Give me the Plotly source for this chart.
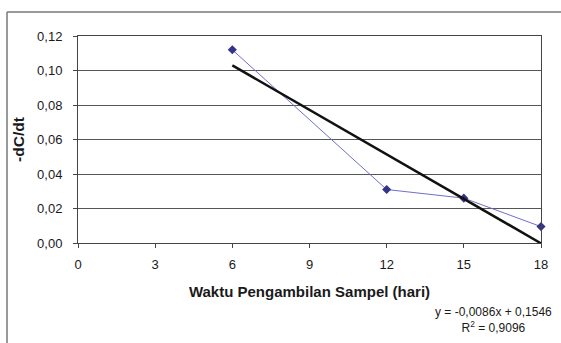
import plotly.graph_objects as go

# Data
hari = [6, 12, 15, 18]
dcdt = [0.112, 0.031, 0.026, 0.0095]
slope = -0.0086
intercept = 0.1546
r2_text = "0,9096"
x_ticks = [0, 3, 6, 9, 12, 15, 18]
y_ticks = [0.00, 0.02, 0.04, 0.06, 0.08, 0.10, 0.12]

trend_x = [hari[0], hari[-1]]
trend_y = [slope * x + intercept for x in trend_x]

W, H = 561, 343
L, R, T, B = 78, 20, 36, 100
pw, ph = W - L - R, H - T - B

def px_x(px):
    return (px - L) / pw

def px_y(py):
    return (H - B - py) / ph

fig = go.Figure()
fig.add_trace(go.Scatter(
    x=hari, y=dcdt, mode="lines+markers",
    line=dict(color="#7070c8", width=1),
    marker=dict(symbol="diamond", size=7, color="#33338a"),
    showlegend=False, cliponaxis=False,
))
fig.add_trace(go.Scatter(
    x=trend_x, y=trend_y, mode="lines",
    line=dict(color="#111111", width=2.5),
    showlegend=False,
))

font = dict(family="Liberation Sans, Arial, sans-serif", size=13, color="#1a1a1a")

fig.update_layout(
    width=W, height=H,
    margin=dict(l=L, r=R, t=T, b=B),
    paper_bgcolor="white", plot_bgcolor="white",
    separators=", ",
    font=font,
    xaxis=dict(
        range=[0, 18], tickvals=x_ticks, ticks="outside", ticklen=4,
        tickcolor="#444", showgrid=False, zeroline=False,
        showline=True, linecolor="#444", linewidth=1, mirror=True,
        ticklabelstandoff=5,
        title=dict(text="<b>Waktu Pengambilan Sampel (hari)</b>", standoff=15,
                   font=dict(size=15)),
    ),
    yaxis=dict(
        range=[0, 0.12], tickvals=y_ticks, tickformat=".2f", ticks="outside",
        ticklen=4, tickcolor="#444", showgrid=True, gridcolor="#555",
        gridwidth=1, zeroline=False,
        showline=True, linecolor="#444", linewidth=1, mirror=True,
        ticklabelstandoff=8,
        title=dict(text="<b>-dC/dt</b>", standoff=8, font=dict(size=15.5)),
    ),
    annotations=[
        dict(
            xref="paper", yref="paper",
            x=px_x(493), y=px_y(320),
            text="y = -0,0086x + 0,1546<br>R<sup>2</sup> = " + r2_text,
            showarrow=False, align="center", xanchor="center", yanchor="middle",
            font=dict(size=12, color="#1a1a1a"),
        )
    ],
    shapes=[
        dict(type="line", xref="paper", yref="paper",
             x0=px_x(7), x1=px_x(565), y0=px_y(12), y1=px_y(12),
             line=dict(color="#777", width=1.5)),
        dict(type="line", xref="paper", yref="paper",
             x0=px_x(7), x1=px_x(7), y0=px_y(12), y1=px_y(350),
             line=dict(color="#777", width=1.5)),
    ],
)

fig.write_html(
    "out.html",
    config={"displayModeBar": False},
    post_script="document.body.style.margin='0';document.body.style.overflow='hidden';",
)
